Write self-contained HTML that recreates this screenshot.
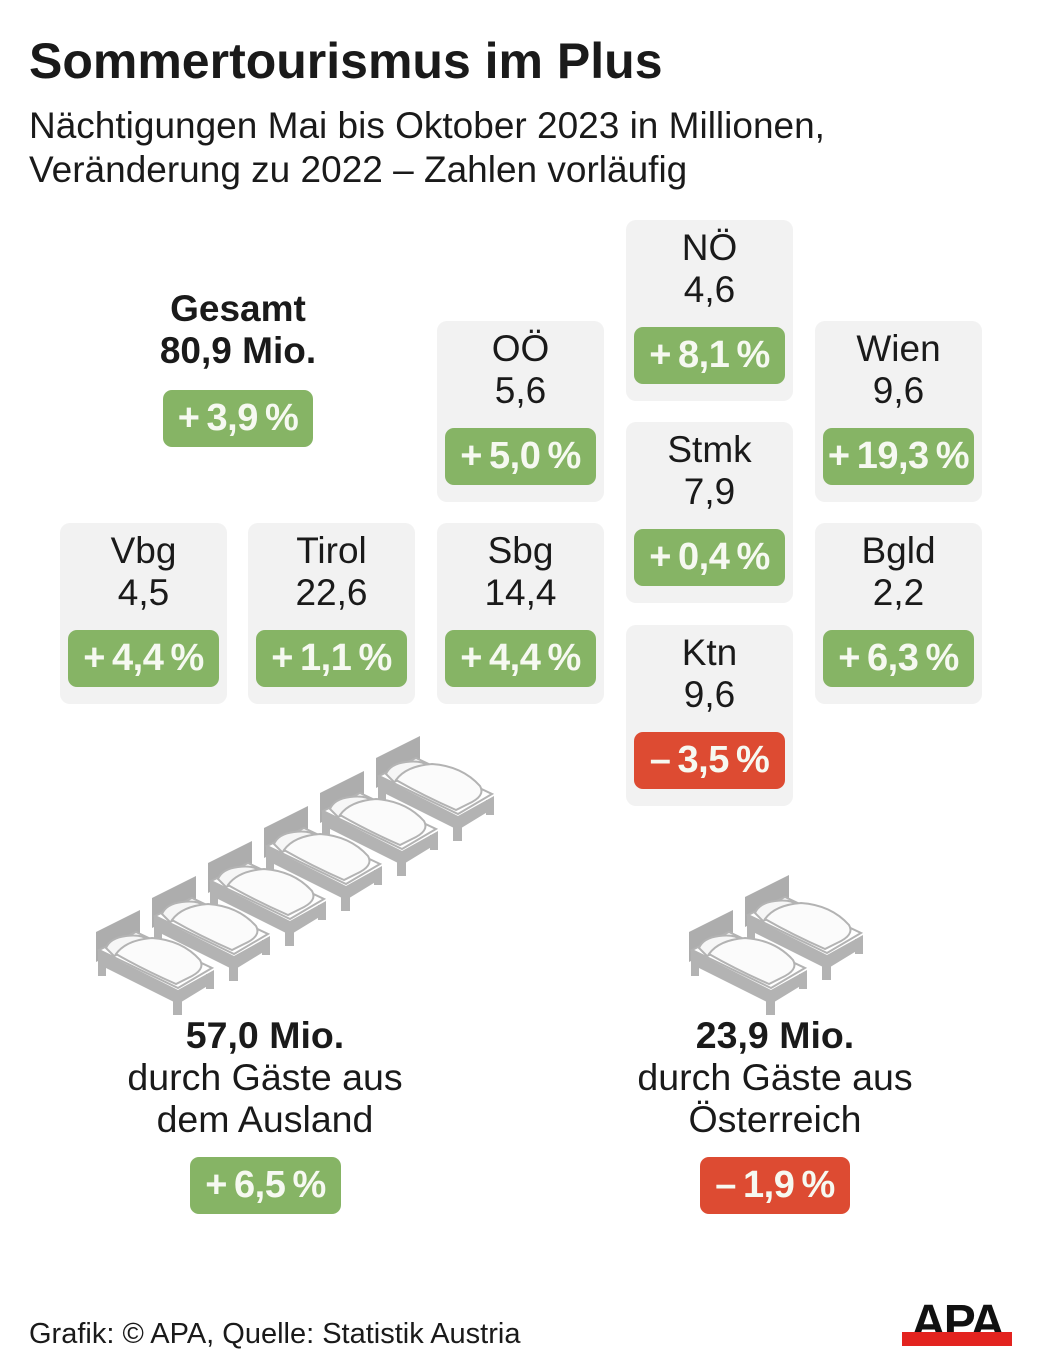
<!DOCTYPE html>
<html><head><meta charset="utf-8"><style>
body{margin:0;width:1041px;height:1371px;background:#fff;position:relative;font-family:"Liberation Sans",sans-serif;color:#1a1a1a;overflow:hidden}
.a{position:absolute}
.t{position:absolute;background:#f2f2f2;border-radius:10px;width:167px;height:181px}
.t .n{position:absolute;left:0;width:167px;text-align:center;font-size:37px;line-height:42px}
.b{position:absolute;height:57px;border-radius:9px;background:#86b465;color:#f6f9f1;font-weight:bold;font-size:38px;line-height:57px;text-align:center;letter-spacing:-0.5px}
.r{background:#dd4b32}
.c{text-align:center;font-size:37.5px;line-height:42px}
</style></head><body>
<div class="a" style="left:29px;top:32px;font-size:50px;font-weight:bold;">Sommertourismus im Plus</div>
<div class="a" style="left:29px;top:104px;font-size:37px;line-height:44px;">Nächtigungen Mai bis Oktober 2023 in Millionen,<br>Veränderung zu 2022 – Zahlen vorläufig</div>

<div class="a c" style="left:118px;width:240px;top:288px;font-weight:bold;font-size:37px;">Gesamt<br>80,9 Mio.</div>
<div class="b" style="left:163px;top:390px;width:150px;">+&#8201;3,9&#8201;%</div>

<div class="t" style="left:437px;top:321px"><div class="n" style="top:7px">OÖ<br>5,6</div><div class="b" style="left:8px;top:107px;width:151px">+&#8201;5,0&#8201;%</div></div>
<div class="t" style="left:626px;top:220px"><div class="n" style="top:7px">NÖ<br>4,6</div><div class="b" style="left:8px;top:107px;width:151px">+&#8201;8,1&#8201;%</div></div>
<div class="t" style="left:815px;top:321px"><div class="n" style="top:7px">Wien<br>9,6</div><div class="b" style="left:8px;top:107px;width:151px">+&#8201;19,3&#8201;%</div></div>
<div class="t" style="left:626px;top:422px"><div class="n" style="top:7px">Stmk<br>7,9</div><div class="b" style="left:8px;top:107px;width:151px">+&#8201;0,4&#8201;%</div></div>
<div class="t" style="left:60px;top:523px"><div class="n" style="top:7px">Vbg<br>4,5</div><div class="b" style="left:8px;top:107px;width:151px">+&#8201;4,4&#8201;%</div></div>
<div class="t" style="left:248px;top:523px"><div class="n" style="top:7px">Tirol<br>22,6</div><div class="b" style="left:8px;top:107px;width:151px">+&#8201;1,1&#8201;%</div></div>
<div class="t" style="left:437px;top:523px"><div class="n" style="top:7px">Sbg<br>14,4</div><div class="b" style="left:8px;top:107px;width:151px">+&#8201;4,4&#8201;%</div></div>
<div class="t" style="left:815px;top:523px"><div class="n" style="top:7px">Bgld<br>2,2</div><div class="b" style="left:8px;top:107px;width:151px">+&#8201;6,3&#8201;%</div></div>
<div class="t" style="left:626px;top:625px"><div class="n" style="top:7px">Ktn<br>9,6</div><div class="b r" style="left:8px;top:107px;width:151px">–&#8201;3,5&#8201;%</div></div>

<svg class="a" style="left:0;top:0" width="1041" height="1371">
<defs>
<g id="bed">
<polygon points="0,22 44,0 44,30 0,52" fill="#adadad"/>
<polygon points="2,40 82,80 118,60 118,72 82,94 2,54" fill="#b3b3b3"/>
<rect x="2" y="50" width="8" height="16" fill="#b3b3b3"/>
<rect x="77" y="88" width="9" height="17" fill="#b3b3b3"/>
<rect x="110" y="64" width="8" height="15" fill="#b3b3b3"/>
<polygon points="3,40 40,22 116,58 82,78" fill="#fff" stroke="#b3b3b3" stroke-width="2"/>
<path d="M10,38 Q14,28 30,26 Q46,24 52,30 L18,46 Z" fill="#f6f6f6" stroke="#b3b3b3" stroke-width="2"/>
<path d="M20,44 Q30,30 56,28 Q86,30 104,50 Q110,60 92,68 L80,74 Q48,60 20,44 Z" fill="#fbfbfb" stroke="#b3b3b3" stroke-width="2"/>
</g>
</defs>
<use href="#bed" x="376" y="736"/>
<use href="#bed" x="320" y="771"/>
<use href="#bed" x="264" y="806"/>
<use href="#bed" x="208" y="841"/>
<use href="#bed" x="152" y="876"/>
<use href="#bed" x="96" y="910"/>
<use href="#bed" x="745" y="875"/>
<use href="#bed" x="689" y="910"/>
</svg>

<div class="a c" style="left:105px;width:320px;top:1014px;"><b>57,0 Mio.</b><br>durch Gäste aus<br>dem Ausland</div>
<div class="b" style="left:190px;top:1157px;width:151px;">+&#8201;6,5&#8201;%</div>
<div class="a c" style="left:615px;width:320px;top:1014px;"><b>23,9 Mio.</b><br>durch Gäste aus<br>Österreich</div>
<div class="b r" style="left:700px;top:1157px;width:150px;">–&#8201;1,9&#8201;%</div>

<div class="a" style="left:29px;top:1318px;font-size:29px;">Grafik: © APA, Quelle: Statistik Austria</div>
<div class="a" style="left:902px;top:1298px;width:110px;height:50px;">
<div class="a" style="left:0;top:3px;width:110px;height:33px;overflow:hidden;text-align:center;font-weight:900;font-size:48px;line-height:44px;color:#111;letter-spacing:-2px;">APA</div>
<div class="a" style="left:0;top:34px;width:110px;height:14px;background:#e3231f"></div>
</div>
</body></html>
